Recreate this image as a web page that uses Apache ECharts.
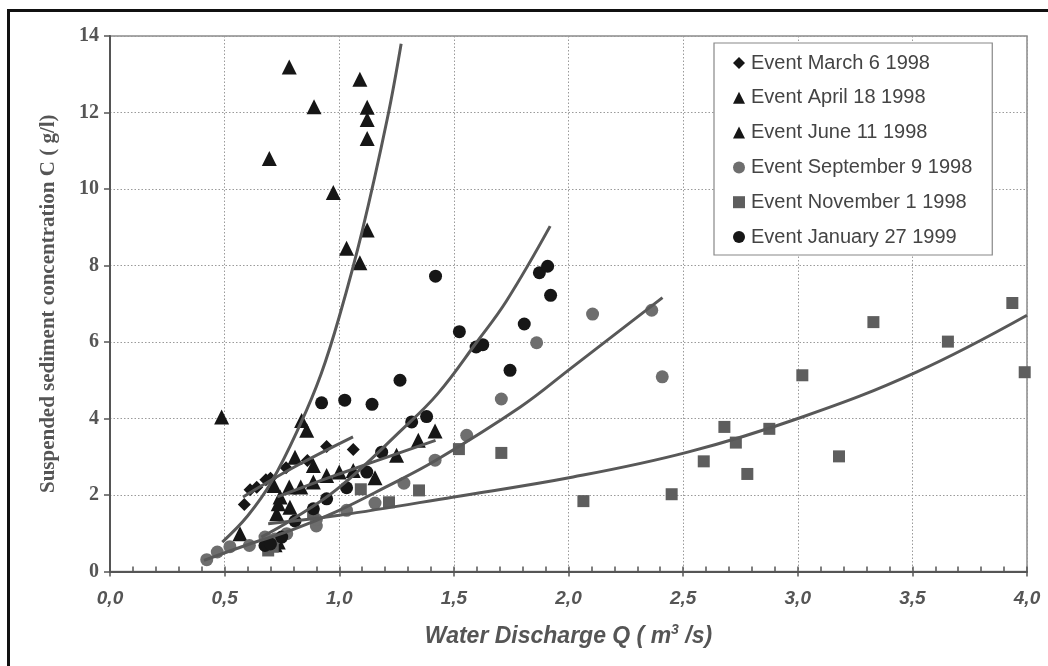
<!DOCTYPE html>
<html>
<head>
<meta charset="utf-8">
<script src="https://cdn.jsdelivr.net/npm/echarts@6/dist/echarts.min.js"></script>
<style>html,body{margin:0;padding:0;background:#fff;}#c{width:1048px;height:666px;}</style>
</head>
<body>
<div id="c"></div>
<script>
// ---- Data ----
const seriesNames = ['Event March 6 1998','Event April 18 1998','Event June 11 1998','Event September 9 1998','Event November 1 1998','Event January 27 1999'];
const xTickLabels = ['0,0','0,5','1,0','1,5','2,0','2,5','3,0','3,5','4,0'];
const yTickLabels = ['0','2','4','6','8','10','12','14'];

const march6 = [[0.586,1.75],[0.611,2.14],[0.64,2.2],[0.68,2.4],[0.70,2.44],[0.768,2.71],[0.861,2.9],[0.945,3.27],[1.061,3.19]];
const april18 = [[0.487,4.04],[0.567,0.99],[0.695,10.8],[0.782,13.19],[0.715,2.25],[0.807,2.99],[0.836,3.95],[0.858,3.69],[0.89,12.15],[0.974,9.91],[1.032,8.45],[1.09,8.07],[1.09,12.87],[1.122,12.14],[1.122,11.82],[1.122,11.32],[1.122,8.93]];
const june11 = [[0.72,0.7],[0.734,0.77],[0.727,1.51],[0.734,1.77],[0.742,1.95],[0.782,2.21],[0.785,1.68],[0.832,2.21],[0.887,2.34],[0.887,2.77],[0.945,2.51],[1.0,2.6],[1.061,2.64],[1.156,2.45],[1.25,3.04],[1.345,3.43],[1.418,3.67]];
const sept9 = [[0.422,0.31],[0.468,0.51],[0.523,0.65],[0.608,0.68],[0.676,0.9],[0.72,0.85],[0.771,0.99],[0.9,1.19],[0.9,1.36],[1.032,1.6],[1.156,1.79],[1.282,2.31],[1.418,2.91],[1.556,3.56],[1.707,4.51],[1.861,5.98],[2.105,6.73],[2.363,6.83],[2.409,5.09]];
const nov1 = [[0.69,0.55],[0.71,0.65],[0.886,1.52],[1.094,2.15],[1.217,1.81],[1.348,2.12],[1.522,3.2],[1.707,3.1],[2.065,1.84],[2.45,2.02],[2.59,2.88],[2.68,3.78],[2.73,3.37],[2.78,2.55],[2.876,3.73],[3.02,5.13],[3.18,3.01],[3.33,6.52],[3.655,6.01],[3.936,7.02],[3.99,5.21]];
const jan27 = [[0.676,0.68],[0.70,0.72],[0.749,0.9],[0.807,1.32],[0.887,1.64],[0.945,1.9],[1.032,2.19],[1.12,2.6],[1.185,3.12],[0.923,4.41],[1.024,4.48],[1.143,4.37],[1.265,5.0],[1.316,3.91],[1.381,4.05],[1.42,7.72],[1.524,6.27],[1.597,5.87],[1.626,5.93],[1.745,5.26],[1.807,6.47],[1.873,7.81],[1.909,7.98],[1.922,7.22]];

// trend curves
const curveMarch = [[0.58,1.95],[0.8,2.72],[1.06,3.52]];
const curveApril = [[0.49,0.77],[0.6,1.45],[0.705,2.35],[0.83,3.85],[0.92,5.15],[1.0,6.66],[1.1,8.9],[1.21,11.85],[1.27,13.8]];
const curveJune = [[0.73,1.95],[1.0,2.55],[1.42,3.43]];
const curveSept = [[0.41,0.29],[0.6,0.7],[0.8,1.1],[1.0,1.6],[1.2,2.2],[1.42,2.9],[1.79,4.3],[2.01,5.31],[2.41,7.16]];
const curveNov = [[0.69,1.25],[1.0,1.47],[1.5,1.95],[2.02,2.47],[2.52,3.12],[3.02,4.04],[3.52,5.22],[4.0,6.7]];
const curveJan = [[0.66,0.9],[0.8,1.38],[1.0,2.2],[1.27,3.69],[1.43,4.65],[1.6,6.0],[1.73,7.08],[1.92,9.03]];

// ---- Chart ----
const chart = echarts.init(document.getElementById('c'), null, {renderer: 'canvas'});
const BLACK = '#161616', GRAYC = '#6e6e6e', GRAYS = '#5e5e5e', LINE = '#585858';
function scatter(name, data, symbol, size, color) {
  return {name, type: 'scatter', data, symbol, symbolSize: size, itemStyle: {color, opacity: 1}, z: 3, silent: true};
}
function curve(data) {
  return {type: 'line', data, smooth: 0.4, showSymbol: false, symbol: 'none', lineStyle: {color: LINE, width: 3}, z: 5, silent: true};
}
const option = {
  animation: false,
  backgroundColor: '#fff',
  grid: {left: 110, right: 21, top: 36, bottom: 94.5, show: true, borderColor: '#8a8a8a', borderWidth: 1.5},
  xAxis: [{
    type: 'value', min: 0, max: 4, interval: 0.5,
    axisLine: {show: true, onZero: false, lineStyle: {color: '#555', width: 2}},
    axisTick: {show: true, length: 5, lineStyle: {color: '#555', width: 1.5}},
    axisLabel: {margin: 18, color: '#555', fontFamily: 'Liberation Sans', fontWeight: 'bold', fontStyle: 'italic', fontSize: 19,
      formatter: v => xTickLabels[Math.round(v / 0.5)]},
    splitLine: {show: true, lineStyle: {color: '#9a9a9a', type: [1.5, 2], width: 1}},
    name: '{a|Water Discharge Q ( m}{s|3}{a| /s)}', nameLocation: 'middle', nameGap: 52,
    nameTextStyle: {rich: {
      a: {fontFamily: 'Liberation Sans', fontWeight: 'bold', fontStyle: 'italic', fontSize: 23, color: '#555'},
      s: {fontFamily: 'Liberation Sans', fontWeight: 'bold', fontStyle: 'italic', fontSize: 14, color: '#555', verticalAlign: 'top', padding: [0, 0, 13, 0]}
    }}
  }, {
    type: 'value', min: 0, max: 4, interval: 0.1, position: 'bottom',
    axisLine: {show: false},
    axisTick: {show: true, inside: true, length: 5, lineStyle: {color: '#555', width: 1.5}},
    axisLabel: {show: false}, splitLine: {show: false}
  }],
  yAxis: {
    type: 'value', min: 0, max: 14, interval: 2,
    axisLine: {show: true, onZero: false, lineStyle: {color: '#555', width: 2}},
    axisTick: {show: true, length: 6, lineStyle: {color: '#555', width: 1.5}},
    axisLabel: {margin: 11, color: '#555', fontFamily: 'Liberation Serif', fontWeight: 'bold', fontSize: 20,
      formatter: v => yTickLabels[Math.round(v / 2)]},
    splitLine: {show: true, lineStyle: {color: '#9a9a9a', type: [1.5, 2], width: 1}},
    name: 'Suspended sediment concentration C ( g/l)', nameLocation: 'middle', nameGap: 51,
    nameTextStyle: {fontFamily: 'Liberation Serif', fontWeight: 'bold', fontSize: 21, color: '#555'}
  },
  legend: {
    data: [
      {name: seriesNames[0], icon: 'diamond'},
      {name: seriesNames[1], icon: 'triangle'},
      {name: seriesNames[2], icon: 'triangle'},
      {name: seriesNames[3], icon: 'circle'},
      {name: seriesNames[4], icon: 'rect'},
      {name: seriesNames[5], icon: 'circle'}
    ],
    orient: 'vertical', left: 714, top: 43,
    padding: [10, 20, 8, 19],
    itemWidth: 12, itemHeight: 12, itemGap: 14.8,
    backgroundColor: '#fff', borderColor: '#888', borderWidth: 1.2,
    textStyle: {fontFamily: 'Liberation Sans', fontSize: 20, color: '#444', padding: [0, 0, 0, 1]},
    selectedMode: false, z: 10
  },
  graphic: [
    {type: 'line', shape: {x1: 8.5, y1: 10, x2: 8.5, y2: 666}, style: {stroke: '#111', lineWidth: 3}, silent: true},
    {type: 'line', shape: {x1: 7, y1: 10.5, x2: 1048, y2: 10.5}, style: {stroke: '#111', lineWidth: 3}, silent: true}
  ],
  series: [
    scatter(seriesNames[0], march6, 'diamond', 13, BLACK),
    scatter(seriesNames[1], april18, 'triangle', 15, BLACK),
    scatter(seriesNames[2], june11, 'triangle', 15, BLACK),
    scatter(seriesNames[3], sept9, 'circle', 13, GRAYC),
    scatter(seriesNames[4], nov1, 'rect', 12, GRAYS),
    scatter(seriesNames[5], jan27, 'circle', 13, BLACK),
    curve(curveMarch), curve(curveApril), curve(curveJune), curve(curveSept), curve(curveNov), curve(curveJan)
  ]
};
chart.setOption(option);
</script>
</body>
</html>
